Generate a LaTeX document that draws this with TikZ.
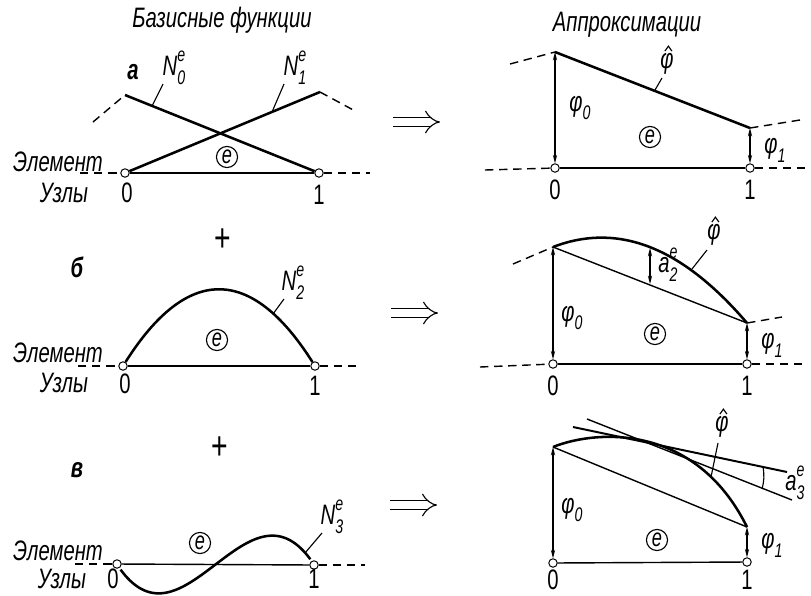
\documentclass[tikz,border=0pt]{standalone}
\usepackage{fontspec}
\setmainfont{Liberation Sans}[FakeStretch=0.72]
\usetikzlibrary{arrows.meta,positioning}

\newcommand{\scr}{\fontsize{14}{14}\selectfont}
\newcommand{\supsub}[3]{#1\rlap{\raisebox{0.95ex}{\scr #2}}\raisebox{-0.6ex}{\scr #3}}
\newcommand{\phisub}[1]{φ\raisebox{-0.6ex}{\scr #1}}
% caret over a node
\newcommand{\hatmark}[1]{\draw[leader] ([xshift=-1.5pt,yshift=0.5pt]#1.north) -- ([xshift=1pt,yshift=4pt]#1.north) -- ([xshift=3.5pt,yshift=0.5pt]#1.north);}

\begin{document}
\begin{tikzpicture}[x=0.025cm, y=-0.025cm,
    txt/.style={font=\fontsize{20}{22}\selectfont\itshape, inner sep=1pt},
    num/.style={font=\fontsize{20}{22}\selectfont, inner sep=1pt},
    part/.style={font=\fontsize{20}{22}\selectfont\bfseries\itshape, inner sep=1pt},
    uzel/.style={circle, draw, fill=white, line width=0.7pt, inner sep=0pt, minimum size=6pt},
    elem/.style={circle, draw, line width=0.8pt, inner sep=0.5pt, minimum size=15pt,
                 font=\fontsize{18}{18}\selectfont\itshape},
    func/.style={line width=1.8pt},
    base/.style={line width=1pt},
    ext/.style={line width=1pt, dash pattern=on 6pt off 4pt},
    leader/.style={line width=0.8pt},
    val/.style={line width=0.8pt, {Stealth[length=6pt,width=3pt]}-{Stealth[length=6pt,width=3pt]}},
    sum/.style={font=\fontsize{28}{28}\selectfont},
    impl/.style={double, double distance=5pt, line width=0.8pt, -{Implies[length=7pt]}},
]
\useasboundingbox (0,0) rectangle (811,595);

% Headings
\node[txt] (head1) at (222,20) {Базисные функции};
\node[txt] (head2) at (627,25) {Аппроксимации};

% ---- a: linear basis functions
\node[part] (pa) at (133,72) {а};
\node[uzel] (a0) at (125,173) {};
\node[uzel] (a1) at (319,173) {};
\coordinate (a0top) at (125,95);
\coordinate (a1top) at (320,92);
\coordinate (a0l) at (93,122);
\coordinate (a1r) at (357,112);
\coordinate (ea0) at (80,173);
\coordinate (ea1) at (370,173);
\draw[func] (a0top) -- (a1);
\draw[func] (a0) -- (a1top);
\draw[ext] (a0l) -- (a0top);
\draw[ext] (a1top) -- (a1r);
\draw[base] (a0) -- (a1);
\draw[ext] (ea0) -- (a0);
\draw[ext] (a1) -- (ea1);
\node[txt] (n0) at (174,68) {\supsub{N}{e}{0}};
\node[txt] (n1) at (295,68) {\supsub{N}{e}{1}};
\coordinate (n0p) at (152,106);
\coordinate (n1p) at (272,112);
\draw[leader] (163,84) -- (n0p);
\draw[leader] (284,84) -- (n1p);
\node[elem] (ea) at (227,157) {e};
\node[txt] (elA) at (58,162) {Элемент};
\node[txt] (uzA) at (64,193) {Узлы};
\node[num] (a0n) at (127,193) {0};
\node[num] (a1n) at (319,195) {1};

% a: approximation
\coordinate (ia0) at (393,122);
\coordinate (ia1) at (440,122);
\draw[impl] (ia0) -- (ia1);
\node[uzel] (ra0) at (555,168) {};
\node[uzel] (ra1) at (750,168) {};
\coordinate (ra0top) at (555,52);
\coordinate (ra1top) at (750,128);
\coordinate (ra0l) at (510,64);
\coordinate (ra1r) at (800,120);
\coordinate (rea0) at (485,170);
\coordinate (rea1) at (805,168);
\draw[func] (ra0top) -- (ra1top);
\draw[ext] (ra0l) -- (ra0top);
\draw[ext] (ra1top) -- (ra1r);
\draw[val] (ra0top) -- (ra0);
\draw[val] (ra1top) -- (ra1);
\draw[base] (ra0) -- (ra1);
\draw[ext] (rea0) -- (ra0);
\draw[ext] (ra1) -- (rea1);
\node[txt] (phia) at (667,64) {φ};
\hatmark{phia}
\coordinate (phiap) at (655,90);
\draw[leader] (662,78) -- (phiap);
\node[txt] (pa0) at (580,108) {\phisub{0}};
\node[txt] (pa1) at (775,150) {\phisub{1}};
\node[elem] (rea) at (650,137) {e};
\node[num] (ra0n) at (555,190) {0};
\node[num] (ra1n) at (750,190) {1};

% ---- б: quadratic
\node[sum] (plus1) at (223,240) {+};
\node[part] (pb) at (77,267) {б};
\node[uzel] (b0) at (123,366) {};
\node[uzel] (b1) at (315,366) {};
\coordinate (eb0) at (78,366);
\coordinate (eb1) at (360,366);
\draw[func] (b0) .. controls (187,265) and (251,265) .. (b1);
\draw[base] (b0) -- (b1);
\draw[ext] (eb0) -- (b0);
\draw[ext] (b1) -- (eb1);
\node[txt] (n2) at (293,283) {\supsub{N}{e}{2}};
\coordinate (n2p) at (273,314);
\draw[leader] (284,299) -- (n2p);
\node[elem] (eb) at (217,340) {e};
\node[txt] (elB) at (58,353) {Элемент};
\node[txt] (uzB) at (64,383) {Узлы};
\node[num] (b0n) at (125,384) {0};
\node[num] (b1n) at (315,386) {1};

% б: approximation
\coordinate (ib0) at (391,313);
\coordinate (ib1) at (438,313);
\draw[impl] (ib0) -- (ib1);
\node[uzel] (rb0) at (553,364) {};
\node[uzel] (rb1) at (747,364) {};
\coordinate (rb0top) at (553,247);
\coordinate (rb1top) at (747,323);
\coordinate (rb0l) at (513,264);
\coordinate (rb1r) at (782,317);
\coordinate (reb0) at (480,367);
\coordinate (reb1) at (805,364);
\coordinate (a2top) at (650,248);
\coordinate (a2bot) at (650,284);
\draw[func] (rb0top) .. controls (618,222) and (682,247) .. (rb1top);
\draw[base] (rb0top) -- (rb1top);
\draw[val] (a2top) -- (a2bot);
\draw[ext] (rb0l) -- (rb0top);
\draw[ext] (rb1top) -- (rb1r);
\draw[val] (rb0top) -- (rb0);
\draw[val] (rb1top) -- (rb1);
\draw[base] (rb0) -- (rb1);
\draw[ext] (reb0) -- (rb0);
\draw[ext] (rb1) -- (reb1);
\node[txt] (a2) at (668,265) {\supsub{a}{e}{2}};
\node[txt] (phib) at (714,235) {φ};
\hatmark{phib}
\coordinate (phibp) at (692,269);
\draw[leader] (707,250) -- (phibp);
\node[txt] (pb0) at (572,318) {\phisub{0}};
\node[txt] (pb1) at (772,345) {\phisub{1}};
\node[elem] (reb) at (655,334) {e};
\node[num] (rb0n) at (553,386) {0};
\node[num] (rb1n) at (747,386) {1};

% ---- в: cubic
\node[sum] (plus2) at (220,448) {+};
\node[part] (pc) at (77,470) {в};
\node[uzel] (c0) at (117,564) {};
\node[uzel] (c1) at (314,565) {};
\coordinate (ec0) at (75,564);
\coordinate (ec1) at (365,565);
\draw[func] plot[smooth, domain=0.018:0.982, samples=40]
    ({117+197*\x}, {564.5-300*\x*(1-\x)*(2*\x-1)});
\draw[base] (c0) -- (c1);
\draw[ext] (ec0) -- (c0);
\draw[ext] (c1) -- (ec1);
\node[txt] (n3) at (332,517) {\supsub{N}{e}{3}};
\coordinate (n3p) at (305,553);
\draw[leader] (322,533) -- (n3p);
\node[elem] (ec) at (200,543) {e};
\node[txt] (elC) at (58,551) {Элемент};
\node[txt] (uzC) at (62,579) {Узлы};
\node[num] (c0n) at (113,579) {0};
\node[num] (c1n) at (314,579) {1};

% в: approximation
\coordinate (ic0) at (390,505);
\coordinate (ic1) at (437,505);
\draw[impl] (ic0) -- (ic1);
\node[uzel] (rc0) at (553,563) {};
\node[uzel] (rc1) at (747,562) {};
\coordinate (rc0top) at (553,447);
\coordinate (rc1top) at (747,527);
\coordinate (tg0) at (573,427);
\coordinate (tg1) at (787,472);
\coordinate (sc0) at (587,419);
\coordinate (sc1) at (792,500);
\coordinate (a3top) at (763,467);
\coordinate (a3bot) at (762,489);
\draw[func] (rc0top) .. controls (595,430) and (695,422) .. (rc1top);
\draw[base] (rc0top) -- (rc1top);
\draw[func, line width=1.4pt] (tg0) -- (tg1);
\draw[base] (sc0) -- (sc1);
\draw[leader] (a3top) to[bend left=12] (a3bot);
\draw[val] (rc0top) -- (rc0);
\draw[val] (rc1top) -- (rc1);
\draw[base] (rc0) -- (rc1);
\node[txt] (a3) at (795,483) {\supsub{a}{e}{3}};
\node[txt] (phic) at (722,427) {φ};
\hatmark{phic}
\coordinate (phicp) at (711,477);
\draw[leader] (718,443) -- (phicp);
\node[txt] (pc0) at (572,510) {\phisub{0}};
\node[txt] (pc1) at (772,545) {\phisub{1}};
\node[elem] (rec) at (657,540) {e};
\node[num] (rc0n) at (553,580) {0};
\node[num] (rc1n) at (747,580) {1};

\end{tikzpicture}
\end{document}
